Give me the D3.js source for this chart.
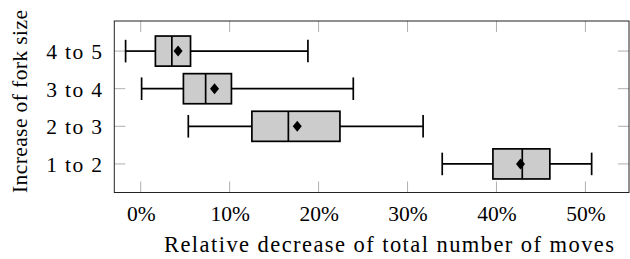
<!DOCTYPE html>
<html>
<head>
<meta charset="utf-8">
<script src="https://cdn.jsdelivr.net/npm/d3@7"></script>
<style>
  html, body { margin: 0; padding: 0; background: #fff; }
  svg text { font-family: "Liberation Serif", "DejaVu Serif", serif; fill: #000; }
</style>
</head>
<body>
<div id="chart"></div>
<script>
var categories = ['1 to 2', '2 to 3', '3 to 4', '4 to 5']
var lowWhisker = [0.339, 0.0535, 0.001, -0.017]
var q1 = [0.396, 0.125, 0.048, 0.0165]
var median = [0.429, 0.166, 0.073, 0.035]
var q3 = [0.460, 0.224, 0.102, 0.056]
var highWhisker = [0.507, 0.3175, 0.239, 0.188]
var mean = [0.427, 0.176, 0.083, 0.042]
var xTicks = [0, 0.1, 0.2, 0.3, 0.4, 0.5]

var width = 630, height = 259
var margin = { top: 21, right: 1, bottom: 66.5, left: 114.3 }
var fontSize = 21.5

var svg = d3.select('#chart').append('svg')
  .attr('width', width)
  .attr('height', height)

var x = d3.scaleLinear()
  .domain([-0.0297, 0.549])
  .range([margin.left, width - margin.right])
var y = d3.scaleLinear()
  .domain([0.24, 4.8])
  .range([height - margin.bottom, margin.top])

var unit = y(0) - y(1)
var data = categories.map(function (c, i) {
  return { name: c, pos: i + 1, lo: lowWhisker[i], q1: q1[i], med: median[i], q3: q3[i], hi: highWhisker[i], mean: mean[i] }
})

// widen a text with letter-spacing until it is `wanted` px long
function spreadTo (sel, wanted) {
  sel.each(function () {
    var natural = this.getComputedTextLength()
    var n = this.textContent.length
    d3.select(this).style('letter-spacing', Math.max(0, (wanted - natural) / n) + 'px')
  })
}

// 坐标轴 (labels only, tick marks drawn inward below)
var xAxis = d3.axisBottom(x).tickValues(xTicks).tickSize(0).tickPadding(0)
  .tickFormat(function (d) { return Math.round(d * 100) + '%' })
svg.append('g')
  .attr('transform', 'translate(0,' + (height - margin.bottom) + ')')
  .call(xAxis)
  .call(function (g) {
    g.select('.domain').remove()
    g.selectAll('text')
      .attr('y', 28).attr('dy', 0)
      .style('font-size', fontSize + 'px')
  })

var yAxis = d3.axisLeft(y).tickValues(data.map(function (d) { return d.pos }))
  .tickSize(0).tickPadding(11)
  .tickFormat(function (d) { return categories[d - 1] })
svg.append('g')
  .attr('transform', 'translate(' + margin.left + ',0)')
  .call(yAxis)
  .call(function (g) {
    g.select('.domain').remove()
    g.selectAll('text')
      .attr('dy', '0.34em')
      .style('font-size', fontSize + 'px')
      .call(spreadTo, 57)
  })

// tick marks, inward on all four sides
var tickLen = 11
var ticks = svg.append('g').attr('stroke', '#9a9a9a').attr('stroke-width', 0.8)
xTicks.forEach(function (t) {
  ticks.append('line').attr('x1', x(t)).attr('x2', x(t))
    .attr('y1', margin.top).attr('y2', margin.top + tickLen)
  ticks.append('line').attr('x1', x(t)).attr('x2', x(t))
    .attr('y1', height - margin.bottom).attr('y2', height - margin.bottom - tickLen)
})
data.forEach(function (d) {
  ticks.append('line').attr('y1', y(d.pos)).attr('y2', y(d.pos))
    .attr('x1', margin.left).attr('x2', margin.left + tickLen)
  ticks.append('line').attr('y1', y(d.pos)).attr('y2', y(d.pos))
    .attr('x1', width - margin.right).attr('x2', width - margin.right - tickLen)
})

// 箱线图
var boxes = svg.append('g').attr('stroke', '#000').attr('stroke-width', 1.7)
var boxH = 0.8 * unit
var capH = 0.6 * unit

boxes.selectAll('.whisker-lo').data(data).enter().append('line')
  .attr('x1', function (d) { return x(d.lo) }).attr('x2', function (d) { return x(d.q1) })
  .attr('y1', function (d) { return y(d.pos) }).attr('y2', function (d) { return y(d.pos) })
boxes.selectAll('.whisker-hi').data(data).enter().append('line')
  .attr('x1', function (d) { return x(d.q3) }).attr('x2', function (d) { return x(d.hi) })
  .attr('y1', function (d) { return y(d.pos) }).attr('y2', function (d) { return y(d.pos) })
boxes.selectAll('.cap-lo').data(data).enter().append('line')
  .attr('x1', function (d) { return x(d.lo) }).attr('x2', function (d) { return x(d.lo) })
  .attr('y1', function (d) { return y(d.pos) - capH / 2 }).attr('y2', function (d) { return y(d.pos) + capH / 2 })
boxes.selectAll('.cap-hi').data(data).enter().append('line')
  .attr('x1', function (d) { return x(d.hi) }).attr('x2', function (d) { return x(d.hi) })
  .attr('y1', function (d) { return y(d.pos) - capH / 2 }).attr('y2', function (d) { return y(d.pos) + capH / 2 })
boxes.selectAll('.box').data(data).enter().append('rect')
  .attr('fill', '#cccccc')
  .attr('x', function (d) { return x(d.q1) })
  .attr('width', function (d) { return x(d.q3) - x(d.q1) })
  .attr('y', function (d) { return y(d.pos) - boxH / 2 })
  .attr('height', boxH)
boxes.selectAll('.median').data(data).enter().append('line')
  .attr('x1', function (d) { return x(d.med) }).attr('x2', function (d) { return x(d.med) })
  .attr('y1', function (d) { return y(d.pos) - boxH / 2 }).attr('y2', function (d) { return y(d.pos) + boxH / 2 })

// mean diamonds
svg.append('g').selectAll('path').data(data).enter().append('path')
  .attr('fill', '#000')
  .attr('d', function (d) {
    var cx = x(d.mean), cy = y(d.pos), w = 4.5, h = 5.5
    return 'M' + (cx - w) + ',' + cy + 'L' + cx + ',' + (cy - h) + 'L' + (cx + w) + ',' + cy + 'L' + cx + ',' + (cy + h) + 'Z'
  })

// frame
svg.append('rect')
  .attr('x', margin.left).attr('y', margin.top)
  .attr('width', width - margin.right - margin.left)
  .attr('height', height - margin.bottom - margin.top)
  .attr('fill', 'none').attr('stroke', '#222').attr('stroke-width', 1)

// labels
svg.append('text')
  .attr('x', 164)
  .attr('y', 252)
  .attr('textLength', 450)
  .attr('lengthAdjust', 'spacing')
  .style('font-size', '22.5px')
  .text('Relative decrease of total number of moves')

svg.append('text')
  .attr('transform', 'translate(27,193) rotate(-90)')
  .attr('textLength', 183)
  .attr('lengthAdjust', 'spacing')
  .style('font-size', fontSize + 'px')
  .text('Increase of fork size')
</script>
</body>
</html>
